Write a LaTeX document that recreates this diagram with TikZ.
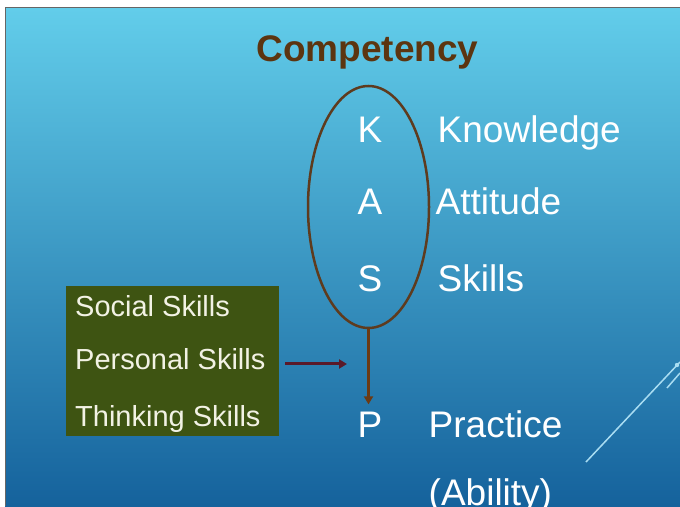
\documentclass[tikz,border=0pt]{standalone}
\usepackage{fontspec}
\setmainfont{Liberation Sans}
\usetikzlibrary{arrows.meta,positioning,shapes.geometric}
\definecolor{kasbrown}{HTML}{5C3510}
\definecolor{kasring}{HTML}{5E3B1E}
\definecolor{kasarrow}{HTML}{6B3A14}
\definecolor{kasmaroon}{HTML}{5A1A2A}
\definecolor{kasgreen}{HTML}{3E5412}
\definecolor{kascream}{HTML}{F2F2E4}
\definecolor{kastop}{HTML}{62CDEA}
\definecolor{kasmid}{HTML}{2E93C6}
\definecolor{kasbottom}{HTML}{15629C}
\definecolor{kasline}{HTML}{A9DDF2}

\begin{document}
\begin{tikzpicture}[
  x=1pt, y=1pt,
  >=Latex,
  letter/.style={text=white, font=\fontsize{37}{44}\selectfont, inner sep=0pt, anchor=base},
  word/.style={text=white, font=\fontsize{37}{44}\selectfont, inner sep=0pt},
  skill/.style={text=kascream, font=\fontsize{29}{34}\selectfont, inner sep=0pt, anchor=base west},
  skillbox/.style={fill=kasgreen, minimum width=213pt, minimum height=150pt, inner sep=0pt},
  ring/.style={draw=kasring, line width=2.5pt, ellipse, inner sep=0pt, minimum width=121pt, minimum height=242pt},
  flow/.style={-{Triangle[length=8pt,width=9pt]}, line width=3pt}
]
  \useasboundingbox[fill=white] (0,0) rectangle (680,506);
  \shade[top color=kastop, middle color=kasmid, bottom color=kasbottom] (5,0) rectangle (680,498);
  \draw[black!60, line width=1pt] (5,0) -- (5,498) -- (680,498);

  % decoration, lower right
  \draw[kasline, line width=1.5pt] (586,44) -- (680,144);
  \draw[kasline, line width=1.5pt] (667,118) -- (680,133);
  \fill[kasline] (677,141) circle (2.2);

  \node[text=kasbrown, font=\fontsize{37}{44}\selectfont\bfseries, inner sep=0pt, anchor=base] (title) at (367.5,444) {Competency};

  \node[ring] (ring) at (368.5,299) {};
  \node[letter] (k) at (370,363) {K};
  \node[letter] (a) at (370,291) {A};
  \node[letter] (s) at (370,214) {S};
  \node[letter] (p) at (370,68) {P};

  \node[word, base right=55pt of k] (knowledge) {Knowledge};
  \node[word, base right=53pt of a] (attitude) {Attitude};
  \node[word, base right=55pt of s] (skills-word) {Skills};
  \node[word, base right=46pt of p] (practice) {Practice};
  \node[word, anchor=base west] (ability) at (practice.base west |- 0,1) {(Ability)};

  \node[skillbox] (skills) at (172.5,145) {};
  \node[skill] (social) at (75,189) {Social Skills};
  \node[skill] (personal) at (75,136) {Personal Skills};
  \node[skill] (thinking) at (75,79) {Thinking Skills};

  \coordinate (join) at (347,142);
  \draw[flow, draw=kasarrow, fill=kasarrow, shorten >=8pt] (ring.south) -- (ring.south |- p.north);
  \draw[flow, draw=kasmaroon, fill=kasmaroon, shorten <=6pt] (skills.east |- join) -- (join);
\end{tikzpicture}
\end{document}
